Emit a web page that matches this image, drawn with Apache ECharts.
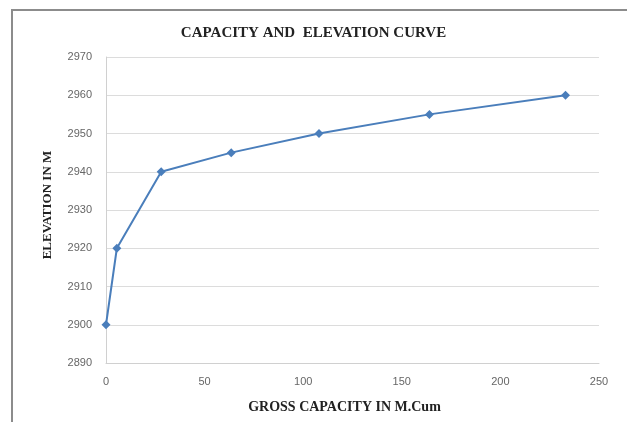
<!DOCTYPE html>
<html><head><meta charset="utf-8">
<script src="https://cdn.jsdelivr.net/npm/echarts@6/dist/echarts.min.js"></script>
<style>html,body{margin:0;padding:0;background:#fff}#c{width:627px;height:422px}</style>
</head><body><div id="c"></div>
<script>
const titleText = 'CAPACITY AND  ELEVATION CURVE';
const xName = 'GROSS CAPACITY IN M.Cum';
const yName = 'ELEVATION IN M';
const capacity = [0, 5.5, 28, 63.5, 108, 164, 233];
const elevation = [2900, 2920, 2940, 2945, 2950, 2955, 2960];

const chart = echarts.init(document.getElementById('c'));
chart.setOption({
  animation: false,
  backgroundColor: '#fff',
  graphic: [{type:'rect', shape:{x:12,y:10,width:700,height:500}, style:{fill:'none', stroke:'#8c8c8c', lineWidth:2}, z:-1}],
  title: {text: titleText, left: 'center', top: 21, textStyle:{fontFamily:'Liberation Serif', fontWeight:'bold', fontSize:15, color:'#222'}},
  grid: {left:106, right:28, top:57, bottom:59},
  xAxis: {type:'value', min:0, max:250, interval:50,
    name: xName, nameLocation:'middle', nameGap:37,
    nameTextStyle:{fontFamily:'Liberation Serif', fontWeight:'bold', fontSize:14, color:'#222', padding:[0,16,0,0]},
    axisLine:{show:true, lineStyle:{color:'#d0d0d0'}}, axisTick:{show:false},
    axisLabel:{color:'#666', fontSize:11, fontFamily:'Liberation Sans', margin:13},
    splitLine:{show:false}},
  yAxis: {type:'value', min:2890, max:2970, interval:10,
    name: yName, nameLocation:'middle', nameGap:52, nameRotate:90,
    nameTextStyle:{fontFamily:'Liberation Serif', fontWeight:'bold', fontSize:13, color:'#222', padding:[0,0,0,10]},
    axisLine:{show:true, lineStyle:{color:'#d0d0d0'}}, axisTick:{show:false},
    axisLabel:{color:'#666', fontSize:11, fontFamily:'Liberation Sans', margin:14, formatter: v => String(v)},
    splitLine:{show:true, lineStyle:{color:'#dcdcdc', width:1}}},
  series: [{type:'line', data: capacity.map((c,i)=>[c, elevation[i]]),
    symbol:'diamond', symbolSize:9, lineStyle:{color:'#4a7ebb', width:2},
    itemStyle:{color:'#4a7ebb'}}]
});
</script></body></html>
